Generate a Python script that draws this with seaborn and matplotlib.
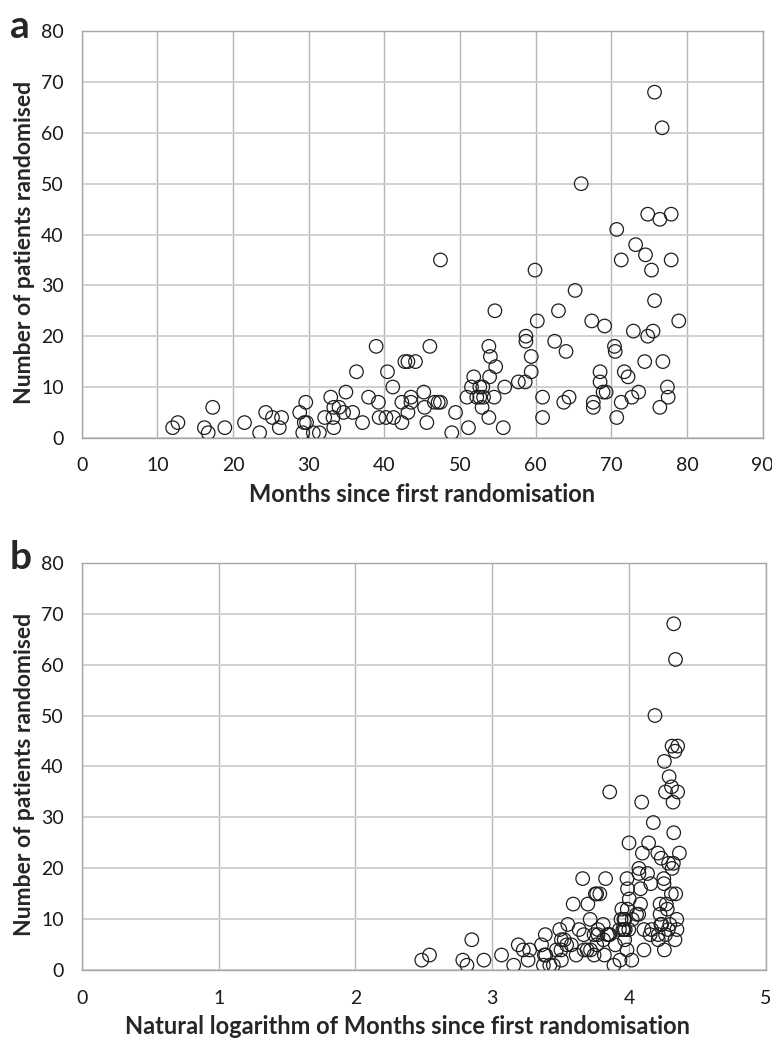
import numpy as np
import pandas as pd
import seaborn as sns
import matplotlib.pyplot as plt

# months since first randomisation and number randomised, one entry per centre
months = [
    12.0, 12.7, 17.3, 16.2, 16.7, 18.9, 21.5, 23.5, 24.3, 25.2, 26.4, 26.1,
    28.8, 29.6, 29.4, 29.7, 29.2, 30.6, 31.4, 32.1, 32.9, 33.3, 33.2, 33.3,
    34.0, 34.6, 34.9, 35.8, 36.3, 37.1, 37.9, 38.9, 39.2, 39.3, 40.2, 40.4,
    41.2, 41.1, 42.3, 42.3, 42.7, 43.1, 44.1, 43.1, 43.5, 43.5, 45.2, 45.3,
    45.6, 46.0, 46.6, 47.1, 47.4, 47.4, 48.9, 49.4, 51.1, 50.9, 51.5, 51.8,
    52.2, 52.6, 53.0, 52.6, 53.1, 52.9, 53.8, 53.8, 54.0, 53.9, 54.5, 54.7,
    54.6, 55.7, 55.9, 57.7, 58.6, 58.7, 58.7, 59.4, 59.4, 59.9, 60.2, 60.9,
    60.9, 62.5, 63.0, 63.7, 64.4, 64.0, 65.2, 66.0, 67.4, 67.6, 67.6, 68.5,
    68.5, 69.1, 68.9, 69.3, 70.4, 70.5, 70.7, 70.7, 71.3, 71.3, 71.7, 72.2,
    72.7, 73.6, 72.9, 73.2, 74.4, 74.5, 74.8, 74.8, 75.5, 75.3, 75.7, 76.4,
    76.4, 76.8, 77.4, 77.5, 77.9, 77.9, 78.9, 75.7, 76.7,
]
patients = [
    2, 3, 6, 2, 1, 2, 3, 1, 5, 4, 4, 2,
    5, 7, 3, 3, 1, 1, 1, 4, 8, 6, 4, 2,
    6, 5, 9, 5, 13, 3, 8, 18, 7, 4, 4, 13,
    4, 10, 3, 7, 15, 15, 15, 5, 8, 7, 9, 6,
    3, 18, 7, 7, 7, 35, 1, 5, 2, 8, 10, 12,
    8, 10, 10, 8, 8, 6, 4, 18, 16, 12, 8, 14,
    25, 2, 10, 11, 11, 20, 19, 16, 13, 33, 23, 8,
    4, 19, 25, 7, 8, 17, 29, 50, 23, 7, 6, 13,
    11, 22, 9, 9, 18, 17, 41, 4, 35, 7, 13, 12,
    8, 9, 21, 38, 15, 36, 44, 20, 21, 33, 27, 43,
    6, 15, 10, 8, 44, 35, 23, 68, 61,
]

df = pd.DataFrame({"months": months, "patients": patients})
df["log_months"] = np.log(df["months"])

sns.set_style("white")
plt.rcParams["font.family"] = ["Lato", "DejaVu Sans"]

fig = plt.figure(figsize=(7.72, 10.4), dpi=100)
ax_a = fig.add_axes([0.106, 0.579, 0.882, 0.391])
ax_b = fig.add_axes([0.106, 0.067, 0.886, 0.392])

panels = [
    (ax_a, "months", "Months since first randomisation", 90, 10, "a", 0.5),
    (ax_b, "log_months", "Natural logarithm of Months since first randomisation", 5, 1, "b", 0.476),
]

for ax, col, xlabel, xmax, xstep, tag, xlab_x in panels:
    sns.scatterplot(data=df, x=col, y="patients", ax=ax, s=95,
                    edgecolor="#1e1e1e", linewidth=0.9, zorder=3)
    ax.collections[0].set_facecolor("none")
    ax.set_xlim(0, xmax)
    ax.set_ylim(0, 80)
    ax.set_xticks(np.arange(0, xmax + xstep / 2, xstep))
    ax.set_yticks(np.arange(0, 81, 10))
    ax.grid(axis="x", color="#b5b5b5", linewidth=1.0, zorder=0)
    ax.grid(axis="y", color="#d0d0d0", linewidth=1.4, zorder=0)
    ax.set_axisbelow(True)
    for sp in ax.spines.values():
        sp.set_color("#a6a6a6")
        sp.set_linewidth(1.0)
    ax.tick_params(length=0, labelsize=14, colors="#1a1a1a")
    ax.tick_params(axis="x", pad=14)
    ax.tick_params(axis="y", pad=13)
    ax.set_xlabel(xlabel, fontsize=17, fontweight="bold", va="top")
    ax.set_ylabel("Number of patients randomised", fontsize=16.5,
                  fontweight="bold")
    ax.xaxis.set_label_coords(xlab_x, -0.11)
    ax.yaxis.set_label_coords(-0.069, 0.48)
    ax.text(-0.105, 1.055, tag, transform=ax.transAxes, fontsize=28,
            fontweight="bold", ha="left", va="top")

fig.savefig("out.png", dpi=100)
